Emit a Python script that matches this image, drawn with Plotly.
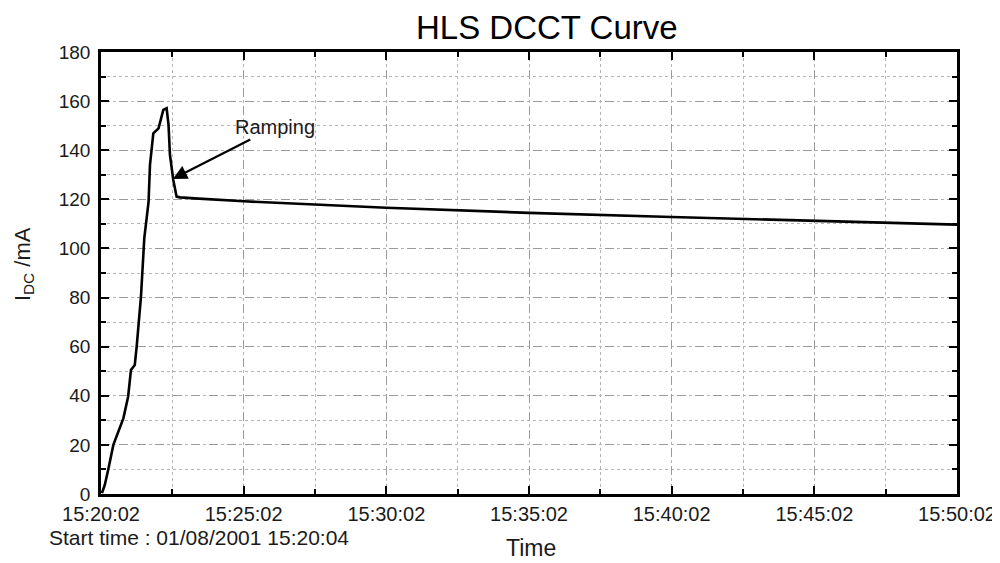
import plotly.graph_objects as go

# Data (time of day, beam current in mA)
times = [
    "15:20:04", "15:20:10", "15:20:17", "15:20:28", "15:20:49", "15:20:59",
    "15:21:05", "15:21:13", "15:21:17", "15:21:21", "15:21:26", "15:21:33",
    "15:21:42", "15:21:45", "15:21:52", "15:22:03", "15:22:13", "15:22:20",
    "15:22:24", "15:22:27", "15:22:34", "15:22:41", "15:22:48", "15:23:19",
    "15:25:02", "15:30:02", "15:35:02", "15:40:02", "15:45:02", "15:50:02",
]
current_mA = [
    0.4, 3.7, 9.8, 20.0, 30.8, 39.6,
    50.5, 52.5, 60.0, 70.2, 80.3, 104.1,
    119.0, 134.0, 146.9, 148.9, 156.4, 157.1,
    150.3, 138.1, 127.9, 121.1, 120.8, 120.4,
    119.2, 116.6, 114.5, 112.8, 111.2, 109.7,
]
date = "2001-01-08 "
x_ticks = ["15:20:02", "15:25:02", "15:30:02", "15:35:02", "15:40:02", "15:45:02", "15:50:02"]
y_ticks = [0, 20, 40, 60, 80, 100, 120, 140, 160, 180]
ramp_point = ("15:22:33", 128.3)

FONT = "Liberation Sans, Arial, sans-serif"

fig = go.Figure()
fig.add_trace(go.Scatter(
    x=[date + t for t in times], y=current_mA, mode="lines",
    line=dict(color="black", width=2.6), showlegend=False, hoverinfo="skip",
))

grid_col = "#9a9a9a"
fig.update_xaxes(
    type="date",
    range=[date + x_ticks[0], date + x_ticks[-1]],
    tickmode="array", tickvals=[date + t for t in x_ticks], ticktext=x_ticks,
    ticks="inside", ticklen=8, tickwidth=2, tickcolor="black",
    showline=True, linewidth=2.5, linecolor="black", mirror="allticks",
    showgrid=True, gridcolor=grid_col, gridwidth=1, griddash="dash",
    minor=dict(dtick=150000, tick0=date + x_ticks[0], ticks="inside", ticklen=5,
               tickwidth=1.5, tickcolor="black", showgrid=True,
               gridcolor="#b5b5b5", gridwidth=1, griddash="dot"),
    tickfont=dict(family=FONT, size=20, color="#1a1a1a"),
    ticklabelstandoff=0,
    zeroline=False, automargin=False,
)
fig.update_yaxes(
    range=[0, 180], tickmode="array", tickvals=y_ticks,
    ticks="inside", ticklen=8, tickwidth=2, tickcolor="black",
    showline=True, linewidth=2.5, linecolor="black", mirror="allticks",
    showgrid=True, gridcolor=grid_col, gridwidth=1, griddash="dash",
    minor=dict(dtick=10, ticks="inside", ticklen=5, tickwidth=1.5, tickcolor="black",
               showgrid=True, gridcolor="#b5b5b5", gridwidth=1, griddash="dot"),
    tickfont=dict(family=FONT, size=19, color="#1a1a1a"),
    ticklabelstandoff=4,
    zeroline=False, automargin=False,
)

annotations = [
    dict(text="HLS DCCT Curve", xref="paper", yref="paper", x=0.521, y=1.099,
         showarrow=False, font=dict(family=FONT, size=33, color="black"),
         xanchor="center", yanchor="top", borderpad=0),
    dict(text="I<sub>DC</sub> /mA", xref="paper", yref="paper", x=-0.09, y=0.52,
         showarrow=False, textangle=-90, font=dict(family=FONT, size=22, color="#1a1a1a"),
         xanchor="center", yanchor="middle"),
    dict(text="Time", xref="paper", yref="paper", x=0.502, y=-0.122,
         showarrow=False, font=dict(family=FONT, size=23, color="#1a1a1a"),
         xanchor="center", yanchor="middle"),
    dict(text="Start time : 01/08/2001 15:20:04", xref="paper", yref="paper",
         x=-0.063, y=-0.099, showarrow=False, xanchor="left", yanchor="middle",
         font=dict(family=FONT, size=21, color="#1a1a1a")),
    dict(text="Ramping", x=date + ramp_point[0], y=ramp_point[1], xref="x", yref="y",
         showarrow=True, arrowhead=2, arrowsize=1.3, arrowwidth=2.2, arrowcolor="black",
         ax=102, ay=-52, font=dict(family=FONT, size=20, color="#1a1a1a")),
]
# page body adds an 8px offset, so the figure is 8px smaller and margins shifted
fig.update_layout(
    width=992, height=555,
    margin=dict(l=93, r=43, t=44, b=69, autoexpand=False),
    paper_bgcolor="white", plot_bgcolor="white",
    annotations=annotations, showlegend=False,
)
fig.write_html("out.html")
